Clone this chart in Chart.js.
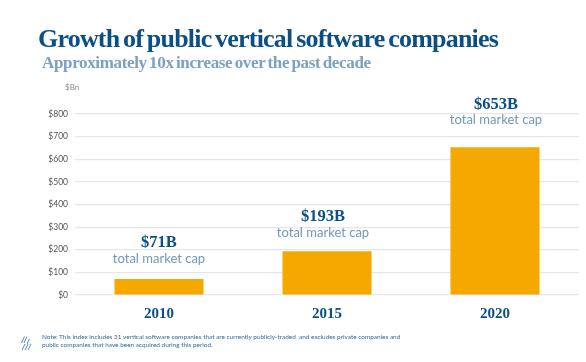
<!DOCTYPE html>
<html>
<head>
<meta charset="utf-8">
<script src="https://cdn.jsdelivr.net/npm/chart.js@4/dist/chart.umd.min.js"></script>
<style>
html, body { margin: 0; padding: 0; background: #fff; }
#wrap { position: relative; width: 586px; height: 362px; overflow: hidden; }
#myChart { position: absolute; left: 0; top: 0; }
.txt { position: absolute; white-space: nowrap; margin: 0; }
#title { left: 38px; top: 23px; font: bold 26px/32px "Liberation Serif", serif; color: #0b4f85; letter-spacing: -0.8px; word-spacing: -2px; }
#sub { left: 42px; top: 52px; font: bold 17px/21px "Liberation Serif", serif; color: #7ba0c0; letter-spacing: -0.35px; word-spacing: -1.5px; }
#unit { left: 65px; top: 82px; font: 8px/10px Lato, sans-serif; color: #8a8a8a; }
#note { left: 42px; top: 333px; font: 6.43px/8px Lato, sans-serif; color: #2f6a9c; }
#logo { position: absolute; left: 21px; top: 336px; }
</style>
</head>
<body>
<div id="wrap">
    <canvas id="myChart" width="586" height="362"></canvas>
    <h1 class="txt" id="title">Growth of public vertical software companies</h1>
    <h2 class="txt" id="sub">Approximately 10x increase over the past decade</h2>
    <div class="txt" id="unit">$Bn</div>
    <div class="txt" id="note">Note: This index includes 31 vertical software companies that are currently publicly-traded&nbsp; and excludes private companies and<br>public companies that have been acquired during this period.</div>
    <svg id="logo" width="11" height="15" viewBox="0 0 11 15" fill="none" stroke="#2f6a9c" stroke-width="0.8">
        <path d="M3.5 0.5L0.5 7M6 0.5L3 7M8.5 3L6 8M1 14L4 8M4 14L7 8M7 14L10 8"></path>
    </svg>
</div>
<script>
const categories = ['2010', '2015', '2020'];
const marketCap = [71, 193, 653];
const yTicks = [0, 100, 200, 300, 400, 500, 600, 700, 800];

// captions sit by hand in the reference, so gap and shift differ per bar
const captionGaps = [20, 19, 27];
const captionShifts = [0, -4, 1];

const barCaptions = {
    id: 'barCaptions',
    afterDatasetsDraw(chart) {
        const { ctx } = chart;
        const bars = chart.getDatasetMeta(0).data;
        ctx.save();
        ctx.textAlign = 'center';
        ctx.textBaseline = 'middle';
        bars.forEach((bar, i) => {
            const x = bar.x + captionShifts[i];
            const y = bar.y - captionGaps[i];
            ctx.fillStyle = '#6f98bb';
            ctx.font = '13px Lato, sans-serif';
            ctx.fillText('total market cap', x, y);
            ctx.fillStyle = '#0b4f85';
            ctx.font = 'bold 16.5px "Liberation Serif", serif';
            ctx.fillText('$' + marketCap[i] + 'B', x, y - 16);
        });
        ctx.restore();
    }
};

// eslint-disable-next-line no-unused-vars
const myChart = new Chart(document.getElementById('myChart'), {
    type: 'bar',
    data: {
        labels: categories,
        datasets: [{
            data: marketCap,
            backgroundColor: '#f4a800',
            barPercentage: 0.53,
            categoryPercentage: 1
        }]
    },
    options: {
        responsive: false,
        animation: false,
        layout: { padding: { top: 114, right: 7, bottom: 0, left: 0 } },
        plugins: { legend: { display: false }, tooltip: { enabled: false } },
        scales: {
            x: {
                grid: { display: false },
                border: { display: false },
                ticks: {
                    color: '#0b4f85',
                    padding: 2,
                    font: { family: '"Liberation Serif", serif', size: 15, weight: 'bold' }
                },
                afterFit(scale) { scale.height = 67; }
            },
            y: {
                min: 0,
                max: 800,
                afterBuildTicks(scale) { scale.ticks = yTicks.map((value) => ({ value })); },
                grid: { color: '#e6e6e6', lineWidth: 1.2, drawTicks: false },
                border: { display: false },
                ticks: {
                    color: '#555555',
                    padding: 7,
                    font: { family: 'Lato, sans-serif', size: 8.5 },
                    callback: (value) => '$' + value
                },
                afterFit(scale) { scale.width = 75; }
            }
        }
    },
    plugins: [barCaptions]
});
</script>
</body>
</html>
